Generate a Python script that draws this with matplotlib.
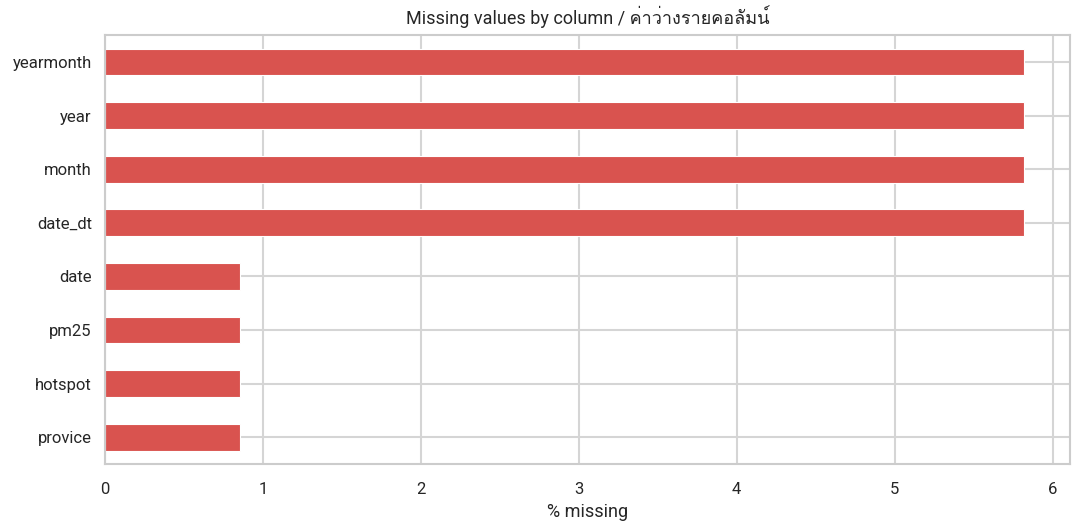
import matplotlib
matplotlib.use("Agg")
import matplotlib.pyplot as plt
from matplotlib import font_manager
import seaborn as sns

columns = ["provice", "hotspot", "pm25", "date", "date_dt", "month", "year", "yearmonth"]
pct_missing = [0.854, 0.854, 0.854, 0.854, 5.82, 5.82, 5.82, 5.82]

sns.set_theme(style="whitegrid", context="notebook")

# find any installed font with Thai coverage for fallback
thai_fams = []
for f in font_manager.fontManager.ttflist:
    n = f.name
    if any(k in n for k in ["Thai", "Tahoma", "Loma", "Garuda", "Kinnari", "Norasi", "Sawasdee", "Waree", "Umpush", "Laksaman", "Purisa"]):
        if n not in thai_fams:
            thai_fams.append(n)
plt.rcParams['font.family'] = ["Roboto"] + thai_fams + ["DejaVu Sans"]

fig, ax = plt.subplots(figsize=(10.82, 5.32), dpi=100)
ax.barh(range(len(columns)), pct_missing, height=0.5, color="#d9534f", edgecolor="white", linewidth=0.8)
ax.set_yticks(range(len(columns)))
ax.set_yticklabels(columns)
ax.set_ylim(-0.5, len(columns) - 0.5)
ax.set_xlim(0, max(pct_missing) * 1.05)
ax.set_title("Missing values by column / ค่าว่างรายคอลัมน์", fontsize=13, color="#262626", pad=8)
ax.set_xlabel("% missing", fontsize=13, color="#262626", labelpad=4)
ax.tick_params(labelsize=12, colors="#262626")
ax.tick_params(axis="x", pad=7)
for s in ax.spines.values():
    s.set_color("#cccccc")
    s.set_linewidth(1.5)
ax.grid(True, color="#d5d5d5", linewidth=1.5)
fig.subplots_adjust(left=0.097, right=0.989, top=0.934, bottom=0.128)
fig.savefig("out.png", dpi=100)
